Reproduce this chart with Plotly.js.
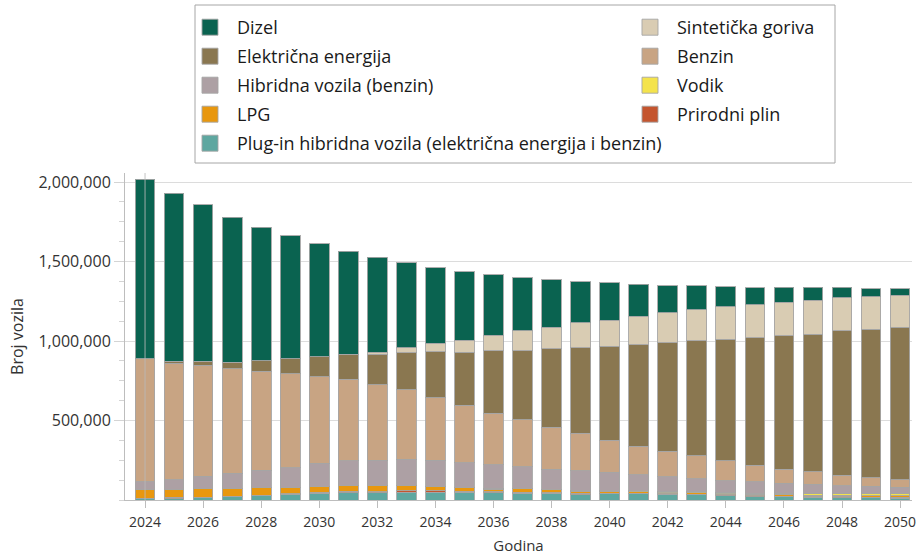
<!DOCTYPE html>
<html>
<head>
<meta charset="utf-8">
<script src="https://cdn.plot.ly/plotly-3.0.1.min.js"></script>
<style>html,body{margin:0;padding:0;background:#fff;}#chart{width:919px;height:555px;}</style>
</head>
<body>
<div id="chart"></div>
<script>
const years = [2024,2025,2026,2027,2028,2029,2030,2031,2032,2033,2034,2035,2036,2037,2038,2039,2040,2041,2042,2043,2044,2045,2046,2047,2048,2049,2050];
const xTickVals = [2024,2026,2028,2030,2032,2034,2036,2038,2040,2042,2044,2046,2048,2050];

const dizel = [1128000,1055000,983000,910000,841000,774000,709000,650000,598000,533000,476000,430000,381000,333000,299000,260000,235000,199000,172000,153000,126000,108000,92000,79000,65000,52000,43000];
const sinteticka = [0,0,0,0,0,0,0,0,12000,31000,53000,75000,97000,128000,136000,157000,164000,181000,188000,194000,203000,208000,213000,214000,208000,203000,201000];
const elektricna = [3000,14000,27000,42000,65000,94000,126000,157000,193000,235000,289000,335000,395000,434000,493000,538000,593000,637000,681000,725000,765000,800000,837000,866000,907000,934000,958000];
const benzin = [771000,734000,699000,658000,624000,589000,545000,512000,474000,436000,394000,361000,322000,296000,262000,234000,201000,179000,162000,142000,126000,105000,90000,79000,66000,55000,48000];
const hibridna = [47000,58000,74000,94000,107000,123000,147000,155000,159000,164000,162000,157000,152000,134000,128000,126000,114000,102000,94000,83000,75000,73000,63000,61000,53000,44000,38000];
const vodik = [0,0,0,0,0,0,0,0,0,0,0,0,2000,2000,3000,3000,6000,6000,6000,6000,6000,6000,7000,7000,8000,14000,16000];
const lpg = [58000,51000,57000,49000,49000,42000,36000,38000,40000,34000,30000,21000,18000,22000,17000,12000,10000,8000,8000,10000,8000,10000,10000,9000,10000,10000,9000];
const prirodniPlin = [2000,8000,4000,4000,4000,4000,6000,8000,6000,10000,10000,8000,6000,6000,5000,10000,2000,4000,3000,3000,4000,4000,5000,5000,5000,5000,5000];
const plugIn = [9000,9000,13000,21000,26000,35000,42000,46000,46000,48000,48000,48000,45000,44000,42000,34000,42000,40000,35000,33000,28000,22000,20000,17000,15000,13000,12000];

// bottom -> top stacking order; rank = position inside its legend column
const series = [
  {name:'Plug-in hibridna vozila (električna energija i benzin)', y:plugIn, color:'#5ea7a0', legend:'legend', rank:5},
  {name:'Prirodni plin', y:prirodniPlin, color:'#c4552f', legend:'legend2', rank:4},
  {name:'LPG', y:lpg, color:'#e8970e', legend:'legend', rank:4},
  {name:'Vodik', y:vodik, color:'#f4e34c', legend:'legend2', rank:3},
  {name:'Hibridna vozila (benzin)', y:hibridna, color:'#ada0a4', legend:'legend', rank:3},
  {name:'Benzin', y:benzin, color:'#c8a483', legend:'legend2', rank:2},
  {name:'Električna energija', y:elektricna, color:'#8a7750', legend:'legend', rank:2},
  {name:'Sintetička goriva', y:sinteticka, color:'#d9ccb3', legend:'legend2', rank:1},
  {name:'Dizel', y:dizel, color:'#0a6350', legend:'legend', rank:1}
];

const traces = [];
series.forEach((s,i) => {
  traces.push({
    type:'bar', x:years, y:s.y, name:s.name, legendgroup:'g'+i, showlegend:false,
    marker:{color:s.color, line:{color:'rgba(165,165,165,0.9)', width:1}},
    hovertemplate:'%{x}: %{y:,}<extra>'+s.name+'</extra>'
  });
});
// legend entries (large square swatches), linked to the bar traces by legendgroup
series.forEach((s,i) => {
  traces.push({
    type:'scatter', mode:'markers', x:[null], y:[null], name:s.name, legend:s.legend,
    legendgroup:'g'+i, legendrank:s.rank, showlegend:true, hoverinfo:'skip',
    marker:{symbol:'square', size:20, color:s.color, line:{color:'rgba(165,165,165,0.9)', width:1}}
  });
});

// pixel helpers for layout placement
const L=125, R=912, T=173, B=500;
const px = v => (v - L)/(R - L);
const py = v => (B - v)/(B - T);

const legendCommon = {
  bgcolor:'rgba(0,0,0,0)', borderwidth:0, itemwidth:44, itemsizing:'trace',
  font:{family:'Open Sans, sans-serif', size:18, color:'#1a1a1a'},
  traceorder:'grouped', tracegroupgap:2.6, yanchor:'top', xanchor:'left',
  itemclick:false, itemdoubleclick:false
};

const layout = {
  width:919, height:555,
  margin:{l:L, r:919-R, t:T, b:555-B, pad:0},
  paper_bgcolor:'#ffffff', plot_bgcolor:'#ffffff',
  barmode:'stack', bargap:0.32,
  font:{family:'Open Sans, sans-serif', color:'#333333'},
  xaxis:{
    range:[2023.31, 2050.41], tickvals:xTickVals, ticktext:xTickVals.map(String),
    ticks:'outside', ticklen:7, tickcolor:'#bdbdbd', tickwidth:1, ticklabelstandoff:2,
    showline:true, linecolor:'#bdbdbd', linewidth:1, showgrid:false, zeroline:false,
    tickfont:{size:14, color:'#333333'},
    title:{text:'Godina', font:{size:15, color:'#333333'}, standoff:11}
  },
  yaxis:{
    range:[0, 2057000], tickvals:[500000,1000000,1500000,2000000], tickformat:',d',
    ticks:'outside', ticklen:10, tickcolor:'#d4d4d4', tickwidth:1,
    minor:{dtick:125000, ticks:'outside', ticklen:5, tickcolor:'#d4d4d4', showgrid:false},
    showline:true, linecolor:'#bdbdbd', linewidth:1,
    showgrid:true, gridcolor:'#dcdcdc', gridwidth:1, zeroline:false,
    tickfont:{size:16, color:'#333333'},
    title:{text:'Broj vozila', font:{size:16, color:'#333333'}, standoff:10}
  },
  legend:Object.assign({}, legendCommon, {x:px(183), y:py(9)}),
  legend2:Object.assign({}, legendCommon, {x:px(623), y:py(9)}),
  shapes:[
    {type:'rect', xref:'paper', yref:'paper', x0:px(195), x1:px(835), y0:py(163), y1:py(5),
     line:{color:'#a6a6a6', width:1}, fillcolor:'rgba(0,0,0,0)', layer:'below'},
    {type:'line', xref:'x', yref:'paper', x0:years[0], x1:years[0], y0:0, y1:1,
     line:{color:'rgba(185,185,185,0.85)', width:1}, layer:'above'}
  ],
  showlegend:true
};

Plotly.newPlot('chart', traces, layout, {displayModeBar:false, staticPlot:true});
</script>
</body>
</html>
